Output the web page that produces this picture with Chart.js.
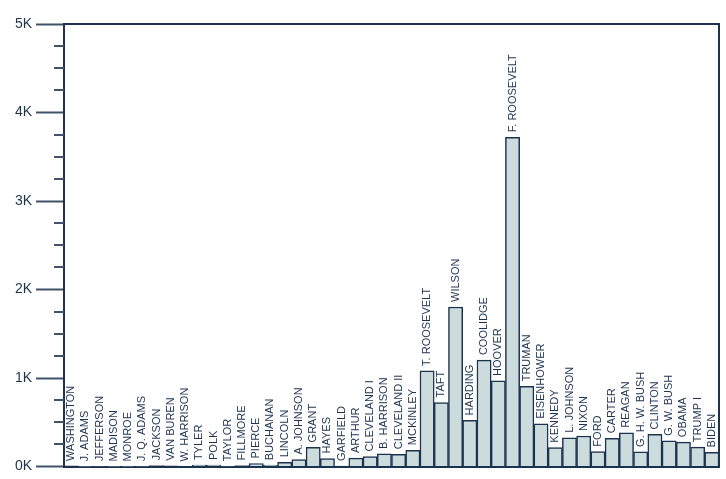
<!DOCTYPE html>
<html lang="en">
<head>
    <meta charset="UTF-8">
    <title>Executive Orders by President</title>
    <script src="https://cdn.jsdelivr.net/npm/chart.js"></script>
    <style>
        body {
            margin: 0;
            padding: 0;
            background-color: #ffffff;
        }
        canvas {
            display: block;
        }
    </style>
</head>
<body>
    <canvas id="myChart" width="726" height="479"></canvas>

    <script>
        // Datos
        var presidents = [
            'WASHINGTON', 'J. ADAMS', 'JEFFERSON', 'MADISON', 'MONROE', 'J. Q. ADAMS', 'JACKSON',
            'VAN BUREN', 'W. HARRISON', 'TYLER', 'POLK', 'TAYLOR', 'FILLMORE', 'PIERCE', 'BUCHANAN',
            'LINCOLN', 'A. JOHNSON', 'GRANT', 'HAYES', 'GARFIELD', 'ARTHUR', 'CLEVELAND I',
            'B. HARRISON', 'CLEVELAND II', 'MCKINLEY', 'T. ROOSEVELT', 'TAFT', 'WILSON', 'HARDING',
            'COOLIDGE', 'HOOVER', 'F. ROOSEVELT', 'TRUMAN', 'EISENHOWER', 'KENNEDY', 'L. JOHNSON',
            'NIXON', 'FORD', 'CARTER', 'REAGAN', 'G. H. W. BUSH', 'CLINTON', 'G. W. BUSH', 'OBAMA',
            'TRUMP I', 'BIDEN'
        ];
        var orders = [
            8, 1, 4, 1, 1, 3, 12,
            10, 0, 17, 18, 5, 12, 35, 16,
            48, 79, 217, 92, 6, 96, 113,
            143, 140, 185, 1081, 724, 1803, 522,
            1203, 968, 3721, 907, 484, 214, 325,
            346, 169, 320, 381, 166, 364, 291, 276,
            220, 160
        ];
        var yTicks = [0, 1000, 2000, 3000, 4000, 5000];

        var navy = '#1c3350';
        var tickGrey = '#3e5269';

        // Etiquetas verticales sobre cada barra, marcos y ticks menores
        var extras = {
            id: 'extras',
            afterDatasetsDraw: function (chart) {
                var ctx = chart.ctx;
                var area = chart.chartArea;
                var y = chart.scales.y;

                // marco superior y derecho
                ctx.save();
                ctx.strokeStyle = navy;
                ctx.lineWidth = 2;
                ctx.beginPath();
                ctx.moveTo(area.left, area.top);
                ctx.lineTo(area.right, area.top);
                ctx.lineTo(area.right, area.bottom);
                ctx.stroke();

                // ticks menores cada 250
                ctx.strokeStyle = tickGrey;
                for (var v = 250; v < 5000; v += 250) {
                    if (v % 1000 === 0) continue;
                    var py = Math.round(y.getPixelForValue(v));
                    ctx.beginPath();
                    ctx.moveTo(area.left - 10, py);
                    ctx.lineTo(area.left, py);
                    ctx.stroke();
                }

                // nombres
                var meta = chart.getDatasetMeta(0);
                ctx.fillStyle = navy;
                ctx.font = '11px "Liberation Sans", Arial, sans-serif';
                ctx.textAlign = 'left';
                ctx.textBaseline = 'middle';
                meta.data.forEach(function (bar, i) {
                    ctx.save();
                    ctx.translate(bar.x, bar.y - 5);
                    ctx.rotate(-Math.PI / 2);
                    ctx.fillText(presidents[i], 0, 0);
                    ctx.restore();
                });
                ctx.restore();
            }
        };

        var ctx = document.getElementById('myChart').getContext('2d');
        var myChart = new Chart(ctx, {
            type: 'bar',
            data: {
                labels: presidents,
                datasets: [{
                    data: orders,
                    backgroundColor: '#ccdbdc',
                    borderColor: navy,
                    borderWidth: 1.5,
                    barPercentage: 1,
                    categoryPercentage: 1
                }]
            },
            options: {
                responsive: false,
                animation: false,
                devicePixelRatio: 1,
                layout: {
                    padding: { top: 24, right: 7, bottom: 4, left: 0 }
                },
                plugins: {
                    legend: { display: false },
                    tooltip: { enabled: false }
                },
                scales: {
                    x: {
                        ticks: { display: false },
                        grid: { display: false },
                        border: { display: true, color: navy, width: 2 }
                    },
                    y: {
                        min: 0,
                        max: 5000,
                        afterFit: function (scale) { scale.width = 64; },
                        afterBuildTicks: function (scale) {
                            scale.ticks = yTicks.map(function (v) { return { value: v }; });
                        },
                        ticks: {
                            padding: 4,
                            color: navy,
                            font: { family: '"Liberation Sans", Arial, sans-serif', size: 14 },
                            callback: function (v) { return (v / 1000) + 'K'; }
                        },
                        grid: {
                            drawOnChartArea: false,
                            tickLength: 28,
                            tickWidth: 2,
                            tickColor: tickGrey
                        },
                        border: { display: true, color: navy, width: 2 }
                    }
                }
            },
            plugins: [extras]
        });
    </script>
</body>
</html>
